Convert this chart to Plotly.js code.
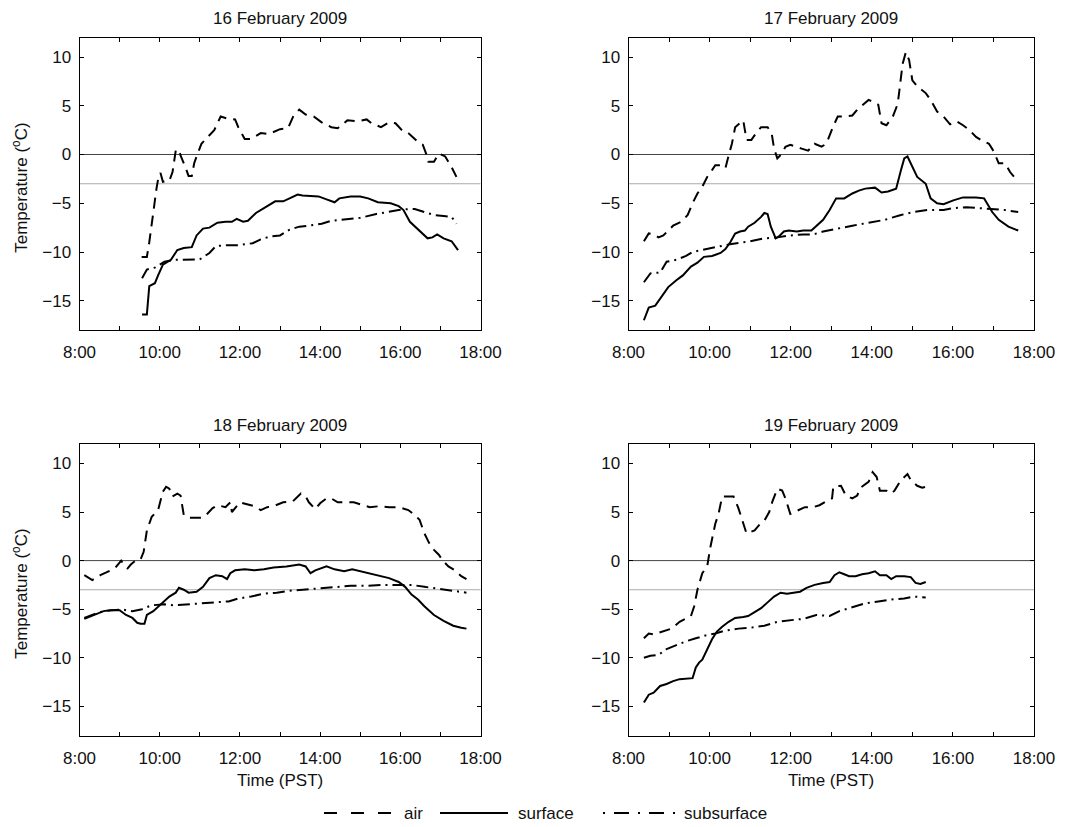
<!DOCTYPE html>
<html>
<head>
<meta charset="utf-8">
<script src="https://cdn.plot.ly/plotly-3.0.1.min.js"></script>
<style>html,body{margin:0;padding:0;background:#fff;}#chart{width:1076px;height:827px;}</style>
</head>
<body>
<div id="chart"></div>
<script>
// ---------- data (time in decimal hours PST, temperature in °C) ----------
const panelTitles = ['16 February 2009', '17 February 2009', '18 February 2009', '19 February 2009'];
const seriesNames = ['air', 'surface', 'subsurface'];
const xTickVals = [8, 10, 12, 14, 16, 18];
const xTickText = ['8:00', '10:00', '12:00', '14:00', '16:00', '18:00'];
const xMinorTickVals = [9, 11, 13, 15, 17];
const yTickVals = [-15, -10, -5, 0, 5, 10];
const refLines = [0, -3];

// 16 February 2009
const feb16AirTime = [9.55, 9.68, 9.74, 9.80, 9.86, 9.92, 9.97, 10.02, 10.08, 10.24, 10.32, 10.40, 10.48, 10.52, 10.64, 10.72, 10.80, 10.86, 10.92, 11.04, 11.20, 11.36, 11.52, 11.68, 11.88, 11.96, 12.12, 12.28, 12.52, 12.72, 13.00, 13.20, 13.34, 13.48, 13.64, 13.84, 14.04, 14.28, 14.44, 14.68, 14.92, 15.16, 15.28, 15.52, 15.72, 15.88, 16.04, 16.20, 16.44, 16.56, 16.66, 16.70, 16.84, 16.96, 17.12, 17.28, 17.40];
const feb16AirTemp = [-10.5, -10.5, -9.0, -7.0, -5.0, -3.5, -2.3, -1.9, -2.8, -2.7, -1.8, 0.4, 0.5, -0.1, -1.3, -2.2, -2.2, -0.9, -0.2, 1.1, 1.8, 2.5, 3.9, 3.7, 3.6, 2.8, 1.6, 1.6, 2.2, 2.1, 2.6, 2.7, 4.0, 4.6, 4.1, 3.9, 3.3, 2.8, 2.7, 3.5, 3.4, 3.6, 3.2, 2.8, 3.3, 3.2, 2.5, 2.2, 1.3, 1.0, -0.1, -0.75, -0.75, 0.1, -0.2, -1.3, -2.3];
const feb16SurfTime = [9.56, 9.68, 9.74, 9.88, 9.96, 10.08, 10.28, 10.44, 10.60, 10.80, 10.92, 11.08, 11.24, 11.44, 11.64, 11.80, 11.92, 12.08, 12.20, 12.40, 12.60, 12.88, 13.08, 13.24, 13.44, 13.56, 13.96, 14.16, 14.36, 14.48, 14.76, 15.00, 15.20, 15.44, 15.76, 15.96, 16.08, 16.24, 16.44, 16.68, 16.80, 16.92, 17.08, 17.28, 17.44];
const feb16SurfTemp = [-16.4, -16.4, -13.5, -13.2, -12.4, -11.3, -10.8, -9.8, -9.6, -9.5, -8.3, -7.6, -7.5, -7.0, -6.9, -6.9, -6.6, -6.9, -6.8, -6.0, -5.5, -4.8, -4.8, -4.5, -4.1, -4.2, -4.3, -4.6, -4.9, -4.5, -4.3, -4.3, -4.5, -4.9, -5.0, -5.3, -5.7, -6.9, -7.7, -8.6, -8.5, -8.2, -8.6, -8.9, -9.8];
const feb16SubTime = [9.56, 9.68, 9.88, 10.12, 10.36, 10.60, 10.84, 11.00, 11.24, 11.40, 11.64, 11.96, 12.32, 12.52, 12.76, 13.00, 13.24, 13.48, 13.72, 14.04, 14.28, 14.60, 15.00, 15.40, 15.64, 15.96, 16.20, 16.36, 16.60, 16.84, 17.08, 17.28, 17.40];
const feb16SubTemp = [-12.7, -11.8, -11.6, -11.0, -10.8, -10.8, -10.8, -10.75, -10.1, -9.4, -9.3, -9.3, -9.1, -8.7, -8.4, -8.3, -7.7, -7.4, -7.3, -7.1, -6.8, -6.7, -6.5, -6.1, -5.9, -5.7, -5.6, -5.6, -5.9, -6.2, -6.3, -6.4, -7.1];

// 17 February 2009
const feb17AirTime = [8.38, 8.50, 8.62, 8.74, 8.86, 8.98, 9.10, 9.30, 9.46, 9.58, 9.70, 9.82, 9.94, 10.06, 10.14, 10.27, 10.39, 10.47, 10.55, 10.63, 10.75, 10.83, 10.91, 11.03, 11.15, 11.27, 11.43, 11.53, 11.59, 11.67, 11.79, 11.87, 11.99, 12.11, 12.27, 12.43, 12.59, 12.76, 12.88, 13.04, 13.16, 13.32, 13.52, 13.64, 13.80, 13.92, 14.04, 14.16, 14.24, 14.36, 14.52, 14.64, 14.76, 14.84, 14.92, 15.00, 15.12, 15.33, 15.45, 15.61, 15.77, 15.93, 16.09, 16.25, 16.41, 16.57, 16.73, 16.89, 17.01, 17.13, 17.29, 17.41, 17.61];
const feb17AirTemp = [-8.9, -8.1, -8.2, -8.5, -8.3, -7.8, -7.3, -6.9, -6.2, -5.0, -4.0, -3.3, -2.3, -1.6, -1.1, -1.1, -1.4, -0.1, 1.1, 2.8, 3.2, 3.5, 1.5, 1.5, 2.2, 2.8, 2.8, 2.2, 0.6, -0.4, 0.1, 0.8, 1.0, 0.8, 0.6, 0.4, 1.1, 0.8, 1.1, 2.8, 3.9, 3.9, 4.0, 4.6, 5.2, 5.6, 5.4, 5.1, 3.2, 3.0, 3.9, 5.2, 9.3, 10.5, 9.7, 7.6, 7.0, 6.3, 5.6, 4.4, 3.9, 3.1, 3.4, 3.0, 2.5, 1.8, 1.4, 1.1, 0.3, -0.9, -0.9, -1.8, -2.8];
const feb17SurfTime = [8.38, 8.50, 8.66, 8.82, 8.98, 9.18, 9.34, 9.54, 9.70, 9.86, 10.06, 10.27, 10.39, 10.51, 10.63, 10.75, 10.87, 10.95, 11.11, 11.27, 11.35, 11.43, 11.51, 11.63, 11.71, 11.83, 11.95, 12.15, 12.31, 12.51, 12.63, 12.80, 12.96, 13.12, 13.32, 13.52, 13.68, 13.84, 14.08, 14.24, 14.40, 14.60, 14.72, 14.80, 14.88, 14.96, 15.12, 15.33, 15.45, 15.61, 15.77, 16.01, 16.25, 16.57, 16.77, 16.97, 17.13, 17.37, 17.61];
const feb17SurfTemp = [-17.0, -15.7, -15.5, -14.6, -13.6, -12.9, -12.4, -11.5, -11.1, -10.5, -10.4, -10.1, -9.7, -9.0, -8.1, -7.9, -7.8, -7.4, -7.0, -6.4, -6.0, -6.1, -7.4, -8.6, -8.4, -7.9, -7.8, -7.9, -7.8, -7.8, -7.3, -6.7, -5.7, -4.5, -4.5, -4.0, -3.7, -3.5, -3.4, -3.9, -3.8, -3.5, -1.6, -0.4, -0.2, -0.9, -2.3, -3.0, -4.5, -5.0, -5.1, -4.7, -4.4, -4.4, -4.5, -5.9, -6.7, -7.4, -7.8];
const feb17SubTime = [8.38, 8.54, 8.78, 8.94, 9.18, 9.42, 9.58, 10.00, 10.50, 10.99, 11.35, 11.67, 11.99, 12.31, 12.55, 12.80, 13.12, 13.52, 13.92, 14.32, 14.72, 15.04, 15.37, 15.77, 16.01, 16.33, 16.65, 16.97, 17.29, 17.61];
const feb17SubTemp = [-13.1, -12.2, -12.1, -11.0, -10.8, -10.4, -10.0, -9.6, -9.2, -8.9, -8.6, -8.5, -8.3, -8.2, -8.2, -7.9, -7.6, -7.3, -7.0, -6.7, -6.2, -5.9, -5.7, -5.7, -5.5, -5.4, -5.5, -5.6, -5.7, -5.9];

// 18 February 2009
const feb18AirTime = [8.12, 8.32, 8.52, 8.72, 8.88, 9.04, 9.12, 9.20, 9.28, 9.40, 9.52, 9.60, 9.68, 9.80, 9.96, 10.08, 10.16, 10.24, 10.32, 10.44, 10.52, 10.60, 10.72, 10.84, 11.04, 11.16, 11.32, 11.44, 11.64, 11.76, 11.80, 12.00, 12.16, 12.36, 12.52, 12.68, 12.84, 13.08, 13.32, 13.52, 13.64, 13.72, 13.88, 14.00, 14.16, 14.28, 14.44, 14.60, 14.84, 15.00, 15.24, 15.48, 15.72, 15.96, 16.20, 16.36, 16.48, 16.60, 16.72, 16.84, 16.96, 17.08, 17.20, 17.36, 17.52, 17.65];
const feb18AirTemp = [-1.5, -2.0, -1.5, -1.1, -0.8, 0.0, -0.5, -0.8, -0.4, 0.0, 0.1, 0.9, 3.1, 4.5, 5.2, 7.1, 7.6, 7.4, 6.6, 6.9, 6.7, 4.7, 4.4, 4.4, 4.4, 4.7, 5.4, 5.7, 5.5, 6.0, 5.0, 6.0, 5.8, 5.6, 5.2, 5.5, 5.6, 6.0, 6.1, 6.9, 6.6, 6.0, 5.3, 5.9, 6.4, 6.4, 6.0, 6.0, 6.0, 5.8, 5.5, 5.6, 5.5, 5.5, 5.2, 4.7, 4.2, 2.8, 1.8, 1.1, 0.6, -0.1, -0.6, -1.0, -1.6, -1.9];
const feb18SurfTime = [8.12, 8.36, 8.60, 8.76, 9.00, 9.16, 9.32, 9.44, 9.52, 9.62, 9.68, 9.84, 10.04, 10.24, 10.40, 10.48, 10.60, 10.72, 10.92, 11.08, 11.24, 11.40, 11.56, 11.68, 11.76, 11.88, 12.12, 12.36, 12.60, 12.84, 13.16, 13.48, 13.64, 13.76, 13.88, 14.16, 14.36, 14.60, 14.80, 15.00, 15.24, 15.48, 15.72, 15.96, 16.12, 16.28, 16.44, 16.60, 16.84, 17.08, 17.32, 17.52, 17.65];
const feb18SurfTemp = [-6.0, -5.6, -5.2, -5.1, -5.1, -5.6, -5.9, -6.4, -6.5, -6.5, -5.6, -5.2, -4.4, -3.7, -3.3, -2.8, -3.0, -3.3, -3.2, -2.7, -1.8, -1.5, -1.6, -1.9, -1.3, -1.0, -0.9, -1.0, -0.9, -0.7, -0.6, -0.4, -0.6, -1.3, -1.0, -0.6, -0.9, -1.1, -0.9, -1.1, -1.4, -1.6, -1.8, -2.2, -2.7, -3.5, -4.0, -4.7, -5.6, -6.2, -6.7, -6.9, -7.0];
const feb18SubTime = [8.12, 8.50, 8.80, 9.08, 9.32, 9.56, 9.80, 10.12, 10.36, 10.68, 11.00, 11.32, 11.72, 11.96, 12.28, 12.60, 12.92, 13.24, 13.56, 13.96, 14.36, 14.76, 15.16, 15.56, 15.96, 16.28, 16.60, 16.92, 17.24, 17.52, 17.65];
const feb18SubTemp = [-5.9, -5.3, -5.1, -5.05, -5.2, -5.0, -4.6, -4.5, -4.6, -4.5, -4.4, -4.3, -4.2, -3.9, -3.7, -3.4, -3.3, -3.1, -3.0, -2.8, -2.7, -2.6, -2.6, -2.5, -2.5, -2.5, -2.7, -2.9, -3.1, -3.2, -3.3];

// 19 February 2009
const feb19AirTime = [8.38, 8.50, 8.62, 8.82, 8.94, 9.06, 9.26, 9.42, 9.54, 9.62, 9.70, 9.82, 9.94, 10.02, 10.14, 10.22, 10.31, 10.43, 10.59, 10.71, 10.83, 10.91, 11.11, 11.23, 11.35, 11.47, 11.55, 11.67, 11.79, 11.87, 11.99, 12.15, 12.35, 12.55, 12.71, 12.92, 13.02, 13.05, 13.24, 13.36, 13.52, 13.64, 13.72, 13.92, 14.02, 14.12, 14.20, 14.36, 14.48, 14.56, 14.72, 14.88, 14.96, 15.12, 15.24, 15.33];
const feb19AirTemp = [-8.0, -7.5, -7.6, -7.3, -7.1, -7.0, -6.3, -6.0, -5.7, -4.7, -3.0, -1.3, -0.6, 1.4, 3.8, 4.8, 6.6, 6.6, 6.6, 5.4, 3.7, 2.8, 3.1, 3.7, 4.1, 5.0, 6.1, 7.4, 7.2, 6.4, 4.8, 5.1, 5.5, 5.5, 5.7, 6.2, 6.4, 7.6, 7.7, 6.7, 6.4, 6.7, 7.5, 8.1, 9.1, 8.6, 7.2, 7.2, 6.9, 7.2, 8.3, 8.9, 8.3, 7.7, 7.5, 7.6];
const feb19SurfTime = [8.38, 8.50, 8.62, 8.78, 8.94, 9.10, 9.26, 9.50, 9.58, 9.66, 9.74, 9.82, 9.94, 10.06, 10.18, 10.31, 10.47, 10.63, 10.83, 10.95, 11.11, 11.27, 11.43, 11.59, 11.75, 11.91, 12.07, 12.23, 12.39, 12.59, 12.80, 12.96, 13.08, 13.20, 13.32, 13.44, 13.60, 13.76, 13.92, 14.08, 14.20, 14.36, 14.48, 14.60, 14.80, 14.96, 15.08, 15.20, 15.33];
const feb19SurfTemp = [-14.6, -13.8, -13.6, -12.9, -12.7, -12.4, -12.2, -12.1, -12.1, -11.0, -10.5, -10.2, -9.1, -8.1, -7.3, -6.8, -6.3, -5.9, -5.8, -5.7, -5.3, -4.9, -4.3, -3.7, -3.3, -3.4, -3.3, -3.2, -2.8, -2.5, -2.3, -2.2, -1.5, -1.2, -1.4, -1.6, -1.6, -1.4, -1.3, -1.1, -1.5, -1.5, -1.9, -1.6, -1.6, -1.7, -2.3, -2.4, -2.2];
const feb19SubTime = [8.38, 8.54, 8.74, 8.94, 9.18, 9.42, 9.66, 9.90, 10.14, 10.39, 10.71, 11.03, 11.35, 11.67, 12.07, 12.31, 12.63, 12.96, 13.20, 13.52, 13.84, 14.16, 14.48, 14.80, 15.04, 15.33];
const feb19SubTemp = [-10.0, -9.8, -9.7, -9.1, -8.7, -8.3, -8.0, -7.7, -7.5, -7.2, -7.0, -6.9, -6.7, -6.3, -6.1, -6.0, -5.6, -5.7, -5.2, -4.8, -4.4, -4.2, -4.0, -3.9, -3.7, -3.8];

const panels = [
  {air: [feb16AirTime, feb16AirTemp], surf: [feb16SurfTime, feb16SurfTemp], sub: [feb16SubTime, feb16SubTemp]},
  {air: [feb17AirTime, feb17AirTemp], surf: [feb17SurfTime, feb17SurfTemp], sub: [feb17SubTime, feb17SubTemp]},
  {air: [feb18AirTime, feb18AirTemp], surf: [feb18SurfTime, feb18SurfTemp], sub: [feb18SubTime, feb18SubTemp]},
  {air: [feb19AirTime, feb19AirTemp], surf: [feb19SurfTime, feb19SurfTemp], sub: [feb19SubTime, feb19SubTemp]}
];

// ---------- layout geometry (pixels in the 1076x827 figure) ----------
const W = 1076, H = 827;
const FONT = 'Liberation Sans, Arial, Helvetica, sans-serif';
const FS = 17;
const colPx = [[79.5, 480.5], [628.5, 1034]];
const rowPx = [[37.5, 330], [444, 735.5]];
const px = v => v / W;
const py = v => 1 - v / H;

const airDash = '11px,7px';
const subDash = '12px,5px,2px,5px';
const LW = 2;

const traces = [];
const layout = {
  width: W, height: H,
  margin: {l: 0, r: 0, t: 0, b: 0},
  paper_bgcolor: '#fff', plot_bgcolor: '#fff',
  showlegend: false,
  font: {family: FONT, size: FS, color: '#111'},
  shapes: [], annotations: []
};

panels.forEach((p, i) => {
  const r = Math.floor(i / 2), c = i % 2;
  const xa = 'x' + (i + 1), ya = 'y' + (i + 1);
  const xKey = 'xaxis' + (i === 0 ? '' : i + 1);
  const yKey = 'yaxis' + (i === 0 ? '' : i + 1);
  layout[xKey] = {
    domain: [px(colPx[c][0]), px(colPx[c][1])], anchor: ya,
    range: [8, 18], tickmode: 'array', tickvals: xTickVals, ticktext: xTickText,
    ticks: 'inside', ticklen: 4, tickwidth: 1, tickcolor: '#000',
    minor: {tickmode: 'array', tickvals: xMinorTickVals, ticks: 'inside', ticklen: 4, tickwidth: 1, tickcolor: '#000', showgrid: false},
    showline: true, linecolor: '#000', linewidth: 1, mirror: 'allticks',
    showgrid: false, zeroline: false, automargin: false,
    ticklabelstandoff: 7,
    tickfont: {family: FONT, size: FS, color: '#111'}
  };
  layout[yKey] = {
    domain: [py(rowPx[r][1]), py(rowPx[r][0])], anchor: xa,
    range: [-18, 12], tickvals: yTickVals,
    ticks: 'inside', ticklen: 4, tickwidth: 1, tickcolor: '#000',
    showline: true, linecolor: '#000', linewidth: 1, mirror: 'allticks',
    showgrid: false, zeroline: false, automargin: false,
    ticklabelstandoff: 4,
    tickfont: {family: FONT, size: FS, color: '#111'}
  };
  // reference lines
  layout.shapes.push({type: 'line', xref: xa + ' domain', yref: ya, x0: 0, x1: 1, y0: refLines[0], y1: refLines[0], line: {color: '#444', width: 1}, layer: 'below'});
  layout.shapes.push({type: 'line', xref: xa + ' domain', yref: ya, x0: 0, x1: 1, y0: refLines[1], y1: refLines[1], line: {color: '#aaa', width: 1}, layer: 'below'});

  traces.push({x: p.sub[0], y: p.sub[1], xaxis: xa, yaxis: ya, mode: 'lines', name: seriesNames[2], line: {color: '#000', width: LW, dash: subDash}});
  traces.push({x: p.air[0], y: p.air[1], xaxis: xa, yaxis: ya, mode: 'lines', name: seriesNames[0], line: {color: '#000', width: LW, dash: airDash}});
  traces.push({x: p.surf[0], y: p.surf[1], xaxis: xa, yaxis: ya, mode: 'lines', name: seriesNames[1], line: {color: '#000', width: LW}});

  // panel title
  layout.annotations.push({text: panelTitles[i], xref: 'paper', yref: 'paper', x: px((colPx[c][0] + colPx[c][1]) / 2), y: py(rowPx[r][0] - 19), xanchor: 'center', yanchor: 'middle', showarrow: false, font: {family: FONT, size: FS, color: '#111'}});
  if (c === 0) {
    layout.annotations.push({text: 'Temperature (<sup>o</sup>C)', xref: 'paper', yref: 'paper', x: px(20), y: py((rowPx[r][0] + rowPx[r][1]) / 2 + 4), xanchor: 'center', yanchor: 'middle', textangle: -90, showarrow: false, font: {family: FONT, size: FS, color: '#111'}});
  }
  if (r === 1) {
    layout.annotations.push({text: 'Time (PST)', xref: 'paper', yref: 'paper', x: px((colPx[c][0] + colPx[c][1]) / 2), y: py(780), xanchor: 'center', yanchor: 'middle', showarrow: false, font: {family: FONT, size: FS, color: '#111'}});
  }
});

// ---------- manual legend ----------
const legY = py(813);
const legendItems = [
  {x0: 324, x1: 394, dash: '13px,14px', tx: 402, label: seriesNames[0]},
  {x0: 440, x1: 508, dash: 'solid', tx: 516, label: seriesNames[1]},
  {x0: 603, x1: 675, dash: '2px,9px,15px,9px', tx: 682, label: seriesNames[2]}
];
legendItems.forEach(it => {
  layout.shapes.push({type: 'line', xref: 'paper', yref: 'paper', x0: px(it.x0), x1: px(it.x1), y0: legY, y1: legY, line: {color: '#000', width: LW, dash: it.dash}});
  layout.annotations.push({text: it.label, xref: 'paper', yref: 'paper', x: px(it.tx), y: legY, xanchor: 'left', yanchor: 'middle', showarrow: false, font: {family: FONT, size: FS, color: '#111'}});
});

Plotly.newPlot('chart', traces, layout, {staticPlot: true, displayModeBar: false});
</script>
</body>
</html>
